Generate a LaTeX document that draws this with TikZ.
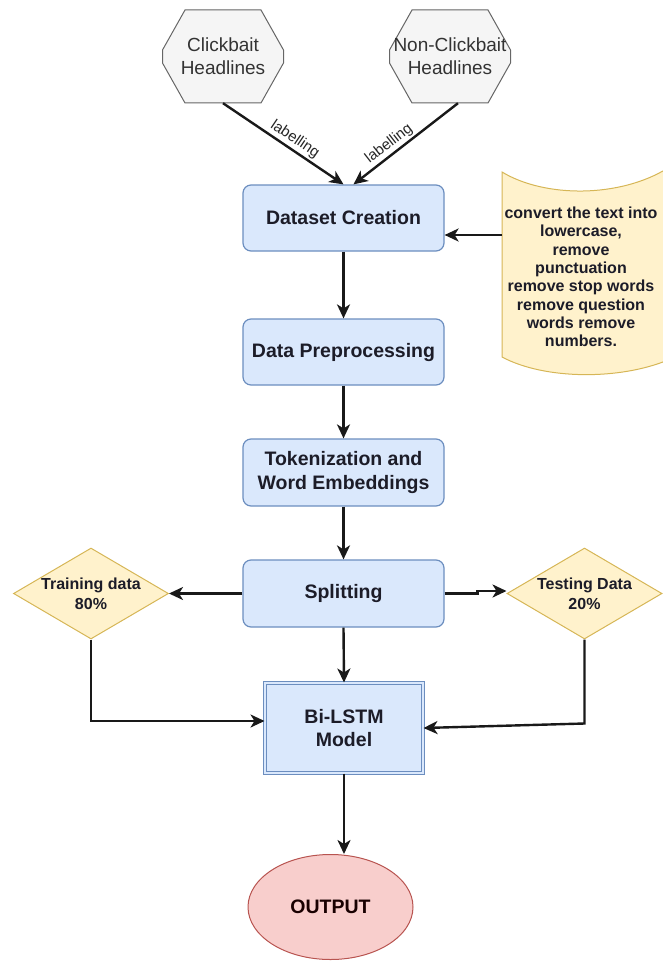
\documentclass[tikz,border=0pt]{standalone}
\usepackage{fontspec}
\setmainfont{Liberation Sans}
\usetikzlibrary{arrows.meta,shapes.geometric}
\definecolor{boxfill}{HTML}{DAE8FC}
\definecolor{boxline}{HTML}{6C8EBF}
\definecolor{octfill}{HTML}{F5F5F5}
\definecolor{octline}{HTML}{666666}
\definecolor{yfill}{HTML}{FFF2CC}
\definecolor{yline}{HTML}{D6B656}
\definecolor{rfill}{HTML}{F8CECC}
\definecolor{rline}{HTML}{B85450}
\definecolor{txt}{HTML}{1C1C28}
\begin{document}
\begin{tikzpicture}[x=1pt,y=-1pt,
  stepbox/.style={draw=boxline, fill=boxfill, line width=1.2pt, rounded corners=8pt,
    minimum width=201pt, minimum height=66pt, inner sep=0pt, align=center, text=txt,
    font=\fontsize{19.5}{23.5}\selectfont\bfseries},
  octdraw/.style={draw=octline, fill=octfill, line width=1pt},
  octbox/.style={minimum width=121pt, minimum height=93pt,
    inner sep=0pt, align=center, text=black!80, font=\fontsize{19}{23}\selectfont},
  dia/.style={diamond, draw=yline, fill=yfill, line width=1pt, minimum width=155pt,
    minimum height=91pt, inner sep=0pt},
  diatext/.style={align=center, text=txt, inner sep=0pt, font=\fontsize{16}{20}\selectfont\bfseries},
  tapetext/.style={align=center, text=txt, inner sep=0pt, font=\fontsize{16}{18.3}\selectfont\bfseries},
  lbl/.style={text=black!85, inner sep=2pt, font=\fontsize{15}{18}\selectfont},
  arr/.style={line width=2.4pt, draw=black!90, -{Stealth[length=14pt,width=13pt,inset=4pt]}},
]
\useasboundingbox (0,0) rectangle (662,963);

% tape shape (cut at the right edge)
\draw[draw=yline, fill=yfill, line width=1pt]
  (502,172) .. controls (545,198) and (620,198) .. (668,168) -- (668,360)
  .. controls (620,380) and (545,380) .. (502,357) -- cycle;
\node[tapetext] (tp) at (581,277) {convert the text into\\lowercase,\\remove\\punctuation\\remove stop words\\remove question\\words remove\\numbers.};
\coordinate (tapeL) at (502,235);

% octagons
\begin{scope}[shift={(223,56.5)}]
  \draw[octdraw] (-38,-46.5) -- (38,-46.5) -- (60.5,-6.5) -- (60.5,6.5) -- (38,46.5)
    -- (-38,46.5) -- (-60.5,6.5) -- (-60.5,-6.5) -- cycle;
\end{scope}
\begin{scope}[shift={(450,56.5)}]
  \draw[octdraw] (-38,-46.5) -- (38,-46.5) -- (60.5,-6.5) -- (60.5,6.5) -- (38,46.5)
    -- (-38,46.5) -- (-60.5,6.5) -- (-60.5,-6.5) -- cycle;
\end{scope}
\node[octbox] (c1) at (223,56.5) {Clickbait\\Headlines};
\node[octbox] (c2) at (450,56.5) {Non-Clickbait\\Headlines};

% process nodes
\node[stepbox] (ds) at (343.5,218) {Dataset Creation};
\node[stepbox] (dp) at (343.5,352) {Data Preprocessing};
\node[stepbox, minimum height=67pt] (tk) at (343.5,472.5) {Tokenization and\\Word Embeddings};
\node[stepbox, minimum height=67pt] (sp) at (343.5,593.5) {Splitting};
\node[stepbox, rounded corners=0pt, minimum width=158pt, minimum height=90pt,
  double=boxfill, double distance=2.5pt, line width=1pt] (bl) at (344,728) {Bi-LSTM\\Model};
\node[ellipse, draw=rline, fill=rfill, line width=1pt, minimum width=165pt, minimum height=105pt,
  inner sep=0pt, text=black!90!red, font=\fontsize{19.5}{23.5}\selectfont\bfseries] (out) at (330.5,907) {OUTPUT};

\node[dia] (tr) at (91,593.5) {};
\node[diatext] (trt) at (tr.center) {Training data\\80\%};
\node[dia] (te) at (584.5,593.5) {};
\node[diatext] (tet) at (te.center) {Testing Data\\20\%};

% connectors
\draw[arr] (c1.south) -- (ds.north) node[lbl, pos=0.55, sloped, above] {labelling};
\draw[arr] ([xshift=8pt]c2.south) -- ([xshift=10pt]ds.north) node[lbl, pos=0.6, sloped, above] {labelling};
\draw[arr] (tapeL) -- (ds.east |- tapeL);
\draw[arr] (ds.south) -- (dp.north);
\draw[arr] (dp.south) -- (tk.north);
\draw[arr] (tk.south) -- (sp.north);
\draw[arr] (sp.south) -- (bl.north);
\draw[arr] (sp.west) -- (tr.east);
\draw[arr] (sp.east) -- ++(33,0) -- ++(0,-2.5) coordinate (tj) -- (tj -| te.west);
\draw[arr] (tr.south) |- ([yshift=7pt]bl.west);
\draw[arr] (te.south) -- ++(0,84) -- (bl.east);
\draw[arr] (bl.south) -- (bl.south |- out.north);
\end{tikzpicture}
\end{document}
